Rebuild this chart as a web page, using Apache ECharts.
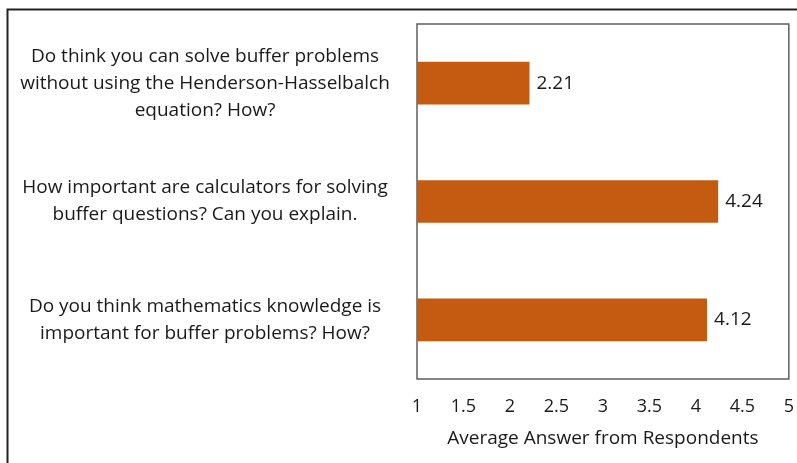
<!DOCTYPE html>
<html>
<head>
<meta charset="utf-8">
<script src="https://cdn.jsdelivr.net/npm/echarts@6/dist/echarts.min.js"></script>
<style>
html,body{margin:0;padding:0;background:#fff;}
#chart{width:797px;height:463px;}
</style>
</head>
<body>
<div id="chart"></div>
<script>
const categories = [
  "Do think you can solve buffer problems\nwithout using the Henderson-Hasselbalch\nequation? How?",
  "How important are calculators for solving\nbuffer questions? Can you explain.",
  "Do you think mathematics knowledge is\nimportant for buffer problems? How?"
];
const values = [2.21, 4.24, 4.12];
const xTicks = { min: 1, max: 5, interval: 0.5 };
const xTitle = "Average Answer from Respondents";

const FONT = "Open Sans";
const FS = 19;
const chart = echarts.init(document.getElementById('chart'), null, {renderer: 'canvas'});
chart.setOption({
  animation: false,
  backgroundColor: '#ffffff',
  graphic: [{
    type: 'rect',
    shape: {x: 7.5, y: 9.5, width: 1000, height: 1000},
    style: {fill: 'none', stroke: '#222222', lineWidth: 2},
    silent: true,
    z: 0
  }],
  grid: {
    left: 417, right: 8, top: 24, bottom: 84,
    show: true, borderColor: '#5f5f5f', borderWidth: 1.5, backgroundColor: 'transparent'
  },
  xAxis: {
    type: 'value',
    min: xTicks.min, max: xTicks.max, interval: xTicks.interval,
    splitLine: {show: false},
    axisLine: {show: false},
    axisTick: {show: false},
    axisLabel: {
      color: '#1a1a1a', fontFamily: FONT, fontSize: 18, margin: 19,
      formatter: v => String(v)
    },
    name: xTitle,
    nameLocation: 'middle',
    nameGap: 50,
    nameTextStyle: {color: '#1a1a1a', fontFamily: FONT, fontSize: FS}
  },
  yAxis: {
    type: 'category',
    data: categories,
    inverse: true,
    axisLine: {show: false},
    axisTick: {show: false},
    splitLine: {show: false},
    axisLabel: {
      color: '#1a1a1a', fontFamily: FONT, fontSize: FS,
      align: 'center', margin: 212, lineHeight: 27
    }
  },
  series: [{
    type: 'bar',
    data: values,
    barWidth: '36%',
    itemStyle: {color: '#C55A11'},
    label: {
      show: true, position: 'right', distance: 7,
      color: '#1a1a1a', fontFamily: FONT, fontSize: 19,
      formatter: p => p.value.toFixed(2)
    }
  }]
});
</script>
</body>
</html>
